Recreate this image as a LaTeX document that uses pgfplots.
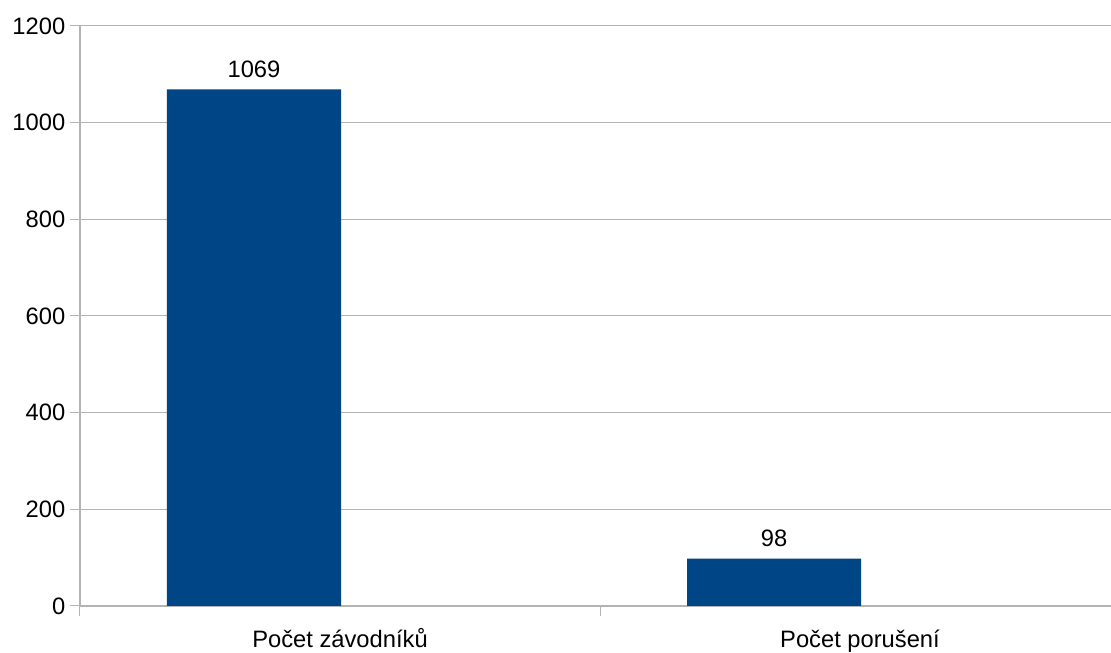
\documentclass[border=0pt]{standalone}
\usepackage{fontspec}
\setmainfont{Liberation Sans}
\usepackage{pgfplots}
\pgfplotsset{compat=1.18}

\definecolor{barblue}{RGB}{0,69,134}
\definecolor{gridgray}{RGB}{179,179,179}

\newcommand{\chartfont}{\fontsize{17.8pt}{21pt}\selectfont}

\begin{document}
\begin{tikzpicture}
% page frame: the second (empty) category slot runs past the right border
\useasboundingbox (-60pt,-35.25pt) rectangle (773.25pt,454.5pt);
\clip (-60pt,-35.25pt) rectangle (773.25pt,454.5pt);
\begin{axis}[
  at={(0pt,0pt)}, anchor=south west,
  scale only axis,
  width=773.25pt, height=435pt,
  xmin=-0.5, xmax=1.48269,
  ymin=0, ymax=1200,
  axis x line*=bottom, axis y line*=left,
  axis line style={draw=gridgray, line width=0.8pt},
  ytick={0,200,...,1200},
  ymajorgrids,
  grid style={draw=gridgray, line width=0.75pt},
  tick style={draw=gridgray, line width=0.75pt},
  tick align=outside,
  major tick length=7.5pt,
  xtick={-0.5,0.5},
  xticklabels={},
  extra x ticks={0,1},
  extra x tick labels={Počet závodníků,Počet porušení},
  extra x tick style={
    major tick length=0pt,
    grid=none,
    xticklabel style={anchor=base, yshift=-31.5pt},
  },
  ticklabel style={font=\chartfont},
  /pgf/number format/assume math mode=true,
  /pgf/number format/1000 sep={},
  clip=false,
]
\addplot[
  ybar,
  bar width=130.5pt,
  bar shift=-64.5pt,
  fill=barblue,
  draw=none,
  nodes near coords,
  every node near coord/.append style={font=\chartfont, text=black,
    xshift=-64.5pt, yshift=5.25pt},
] coordinates {(0,1069) (1,98)};
\end{axis}
\end{tikzpicture}
\end{document}
